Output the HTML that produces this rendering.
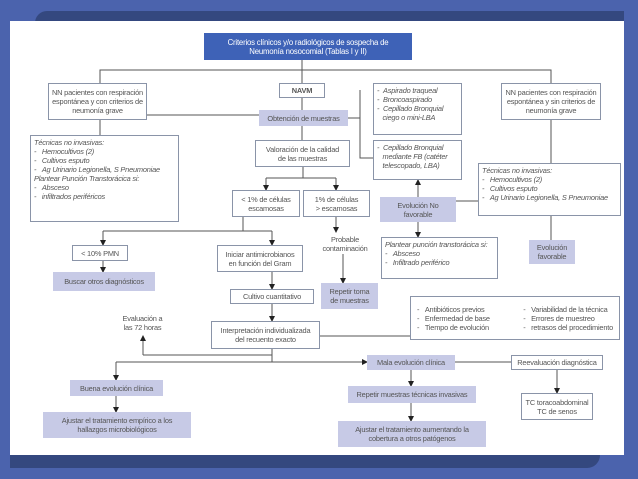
<!DOCTYPE html>
<html><head><meta charset="utf-8"><style>
body{margin:0;width:638px;height:479px;overflow:hidden;background:#4b63ad;position:relative;font-family:"Liberation Sans",sans-serif}
.p{position:absolute;left:10px;top:21px;width:614px;height:434px;background:#fff}
.b{position:absolute;box-sizing:border-box;border:1px solid #8a94a8;background:#fff;color:#555;font-size:7.4px;line-height:9px;text-align:center;display:flex;align-items:center;justify-content:center;letter-spacing:-0.2px}
.l{background:#c7cae6;border:none}
.t{position:absolute;color:#555;font-size:7.4px;line-height:9px;text-align:center;letter-spacing:-0.2px}
.i{font-style:italic;text-align:left;display:block;padding:2px 3px}
.i div{white-space:nowrap}
</style></head><body>
<div style="position:absolute;left:35px;top:11px;width:589px;height:12px;background:#34487f;border-top-left-radius:20px"></div>
<div class="p"></div>
<div style="position:absolute;left:10px;top:455px;width:590px;height:13px;background:#34487f;border-bottom-right-radius:25px"></div>
<svg style="position:absolute;left:0;top:0" width="638" height="479">
<defs><marker id="a" markerWidth="6" markerHeight="6" refX="5" refY="3" orient="auto" markerUnits="userSpaceOnUse"><path d="M0,0L6,3L0,6z" fill="#222"/></marker></defs>
<g stroke="#555" stroke-width="1" fill="none">
<path d="M302,60V110M100,83V70H551V83M147,115H259M100,120V135M302,126V140M348,118H360M360,90V158H373M551,120V163M456,201H478M551,216V240M303,167V178H266M336,178H266M243,217V231H103M243,231H272M272,349V362M116,362H272M272,355H143M320,336H410M455,362H511"/>
</g>
<g stroke="#555" stroke-width="1" fill="none" marker-end="url(#a)">
<line x1="266" y1="178" x2="266" y2="190"/>
<line x1="336" y1="178" x2="336" y2="190"/>
<line x1="103" y1="231" x2="103" y2="245"/>
<line x1="272" y1="231" x2="272" y2="245"/>
<line x1="103" y1="261" x2="103" y2="272"/>
<line x1="336" y1="217" x2="336" y2="232"/>
<line x1="343" y1="254" x2="343" y2="283"/>
<line x1="418" y1="222" x2="418" y2="237"/>
<line x1="418" y1="197" x2="418" y2="180"/>
<line x1="272" y1="272" x2="272" y2="289"/>
<line x1="272" y1="304" x2="272" y2="321"/>
<line x1="143" y1="355" x2="143" y2="336"/>
<line x1="116" y1="362" x2="116" y2="380"/>
<line x1="272" y1="362" x2="367" y2="362"/>
<line x1="557" y1="370" x2="557" y2="393"/>
<line x1="116" y1="396" x2="116" y2="412"/>
<line x1="411" y1="370" x2="411" y2="386"/>
<line x1="411" y1="403" x2="411" y2="421"/>
</g>
</svg>
<div class="b" style="left:204px;top:33px;width:208px;height:27px;background:#3e62b7;color:#fff;border:none;font-size:7.8px">Criterios clínicos y/o radiológicos de sospecha de<br>Neumonía nosocomial (Tablas I y II)</div>
<div class="b" style="left:48px;top:83px;width:99px;height:37px">NN pacientes con respiración<br>espontánea y con criterios de<br>neumonía grave</div>
<div class="b" style="left:279px;top:83px;width:46px;height:15px;font-weight:bold">NAVM</div>
<div class="b" style="left:501px;top:83px;width:100px;height:37px">NN pacientes con respiración<br>espontánea y sin criterios de<br>neumonía grave</div>
<div class="b l" style="left:259px;top:110px;width:89px;height:16px">Obtención de muestras</div>
<div class="b i" style="left:373px;top:83px;width:89px;height:52px"><div>- &nbsp;Aspirado traqueal</div><div>- &nbsp;Broncoaspirado</div><div>- &nbsp;Cepillado Bronquial</div><div>&nbsp;&nbsp;&nbsp;ciego o mini-LBA</div></div>
<div class="b i" style="left:373px;top:140px;width:89px;height:40px"><div>- &nbsp;Cepillado Bronquial</div><div>&nbsp;&nbsp;&nbsp;mediante FB (catéter</div><div>&nbsp;&nbsp;&nbsp;telescopado, LBA)</div></div>
<div class="b i" style="left:30px;top:135px;width:149px;height:87px"><div>Técnicas no invasivas:</div><div>- &nbsp;&nbsp;Hemocultivos (2)</div><div>- &nbsp;&nbsp;Cultivos esputo</div><div>- &nbsp;&nbsp;Ag Urinario Legionella, S Pneumoniae</div><div>Plantear Punción Transtorácica si:</div><div>- &nbsp;&nbsp;Absceso</div><div>- &nbsp;&nbsp;infiltrados periféricos</div></div>
<div class="b" style="left:255px;top:140px;width:95px;height:27px">Valoración de la calidad<br>de las muestras</div>
<div class="b i" style="left:478px;top:163px;width:143px;height:53px"><div>Técnicas no invasivas:</div><div>- &nbsp;&nbsp;Hemocultivos (2)</div><div>- &nbsp;&nbsp;Cultivos esputo</div><div>- &nbsp;&nbsp;Ag Urinario Legionella, S Pneumoniae</div></div>
<div class="b" style="left:232px;top:190px;width:68px;height:27px">&lt; 1% de células<br>escamosas</div>
<div class="b" style="left:303px;top:190px;width:67px;height:27px">1% de células<br>&gt; escamosas</div>
<div class="b l" style="left:380px;top:197px;width:76px;height:25px">Evolución No<br>favorable</div>
<div class="b i" style="left:381px;top:237px;width:117px;height:42px"><div>Plantear punción transtorácica si:</div><div>- &nbsp;&nbsp;Absceso</div><div>- &nbsp;&nbsp;Infiltrado periférico</div></div>
<div class="b l" style="left:529px;top:240px;width:46px;height:24px">Evolución<br>favorable</div>
<div class="b" style="left:72px;top:245px;width:56px;height:16px">&lt; 10% PMN</div>
<div class="b l" style="left:53px;top:272px;width:102px;height:19px">Buscar otros diagnósticos</div>
<div class="b" style="left:217px;top:245px;width:86px;height:27px">Iniciar antimicrobianos<br>en función del Gram</div>
<div class="t" style="left:315px;top:235px;width:60px">Probable<br>contaminación</div>
<div class="b l" style="left:321px;top:283px;width:57px;height:26px">Repetir toma<br>de muestras</div>
<div class="b" style="left:230px;top:289px;width:84px;height:15px">Cultivo cuantitativo</div>
<div class="b i" style="left:410px;top:296px;width:210px;height:44px;font-style:normal;display:flex;padding:4px 6px;justify-content:space-between"><div><div>- &nbsp;&nbsp;Antibióticos previos</div><div>- &nbsp;&nbsp;Enfermedad de base</div><div>- &nbsp;&nbsp;Tiempo de evolución</div></div><div><div>- &nbsp;&nbsp;Variabilidad de la técnica</div><div>- &nbsp;&nbsp;Errores de muestreo</div><div>- &nbsp;&nbsp;retrasos del procedimiento</div></div></div>
<div class="t" style="left:115px;top:314px;width:55px">Evaluación a<br>las 72 horas</div>
<div class="b" style="left:211px;top:321px;width:109px;height:28px">Interpretación individualizada<br>del recuento exacto</div>
<div class="b l" style="left:367px;top:355px;width:88px;height:15px">Mala evolución clínica</div>
<div class="b" style="left:511px;top:355px;width:92px;height:15px">Reevaluación diagnóstica</div>
<div class="b l" style="left:70px;top:380px;width:93px;height:16px">Buena evolución clínica</div>
<div class="b l" style="left:348px;top:386px;width:128px;height:17px">Repetir muestras técnicas invasivas</div>
<div class="b" style="left:521px;top:393px;width:72px;height:27px">TC toracoabdominal<br>TC de senos</div>
<div class="b l" style="left:43px;top:412px;width:148px;height:26px">Ajustar el tratamiento empírico a los<br>hallazgos microbiológicos</div>
<div class="b l" style="left:338px;top:421px;width:148px;height:26px">Ajustar el tratamiento aumentando la<br>cobertura a otros patógenos</div>
</body></html>
